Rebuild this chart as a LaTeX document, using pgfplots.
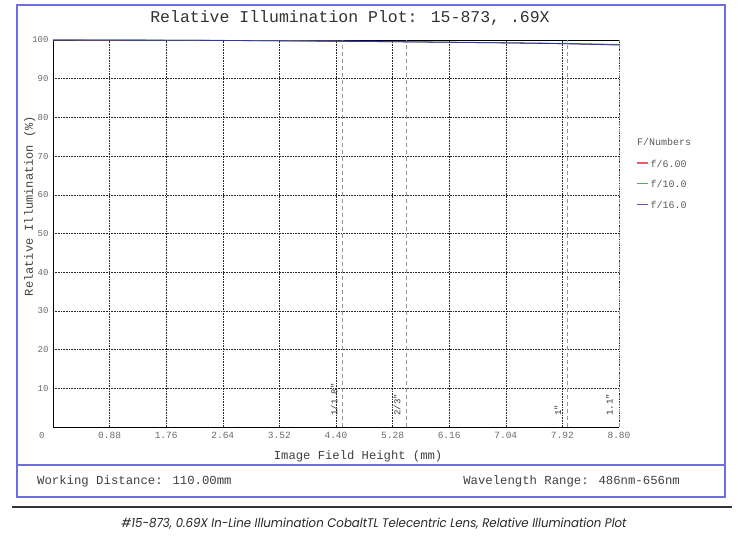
\documentclass[border=0pt]{standalone}
\usepackage{pgfplots}
\pgfplotsset{compat=1.18}
\usepackage{fontspec}
\setmainfont{Liberation Mono}
\setmonofont{Liberation Mono}
\newfontfamily\capfont{Poppins}
\definecolor{frameblue}{RGB}{110,110,225}
\definecolor{cred}{RGB}{235,70,95}
\definecolor{cgreen}{RGB}{60,150,60}
\definecolor{cblue}{RGB}{50,50,190}
\definecolor{lred}{RGB}{240,90,105}
\definecolor{lgreen}{RGB}{90,170,90}
\definecolor{lblue}{RGB}{80,80,210}
\definecolor{tickgray}{RGB}{105,105,105}
\definecolor{dashgray}{RGB}{150,150,150}
\begin{document}
\begin{tikzpicture}
\path[use as bounding box] (0pt,0pt) rectangle (744pt,542pt);
\draw[frameblue, line width=1.2pt] (17pt,45pt) rectangle (725pt,537pt);
\draw[frameblue, line width=1.2pt] (17pt,77pt) -- (725pt,77pt);
\draw[black!80, line width=1.3pt] (12pt,35pt) -- (732pt,35pt);
\node[font=\fontsize{16.5}{18}\selectfont, text=black!80] at (350pt,524.5pt) {Relative Illumination Plot: 15-873, .69X};
\node[anchor=west, font=\fontsize{12.3}{14}\selectfont, text=black!75, inner sep=0pt] at (37pt,61pt) {Working Distance: 110.00mm};
\node[anchor=east, font=\fontsize{12.3}{14}\selectfont, text=black!75, inner sep=0pt] at (680pt,61pt) {Wavelength Range: 486nm-656nm};
\node[text=black!85] at (374pt,18pt) {\resizebox{505pt}{9.5pt}{\capfont\itshape \#15-873, 0.69X In-Line Illumination CobaltTL Telecentric Lens, Relative Illumination Plot}};
\begin{axis}[
  at={(53pt,115pt)}, anchor=south west,
  scale only axis, width=566pt, height=387pt,
  xmin=0, xmax=8.8, ymin=0, ymax=100,
  clip=false,
  /pgf/number format/assume math mode=true,
  xtick={0.88,1.76,2.64,3.52,4.40,5.28,6.16,7.04,7.92,8.80},
  xticklabel={\pgfmathprintnumber[fixed,fixed zerofill,precision=2]{\tick}},
  ytick={10,20,...,100},
  extra y ticks={0},
  extra y tick style={grid=none, yticklabel style={yshift=-9pt, xshift=-4pt}},
  major tick length=0pt,
  grid=major,
  major grid style={black!85, line width=0.5pt, dash pattern=on 0.8pt off 0.8pt},
  axis line style={draw=none},
  xticklabel style={font=\fontsize{9.5}{11}\selectfont, text=tickgray, yshift=-2pt},
  yticklabel style={font=\fontsize{9}{11}\selectfont, text=tickgray, xshift=-1pt},
  xlabel={Image Field Height (mm)},
  ylabel={Relative Illumination (\%)},
  xlabel style={at={(axis description cs:0.539,-0.075)}, anchor=center, font=\fontsize{12.2}{14}\selectfont, text=black!75},
  ylabel style={at={(axis description cs:-0.041,0.571)}, anchor=center, font=\fontsize{12}{14}\selectfont, text=black!75},
  legend style={at={(rel axis cs:1.030,0.691)}, anchor=north west, draw=none, fill=none,
    font=\fontsize{10}{12}\selectfont, text=black!65, row sep=12pt, inner sep=0pt,
    nodes={inner xsep=2pt, inner ysep=0pt}},
  legend cell align=left,
]
\draw[black, line width=0.9pt] (rel axis cs:1,1) -- (rel axis cs:0,1) -- (rel axis cs:0,0) -- (rel axis cs:1,0);
\addplot[dashgray, line width=0.7pt, dash pattern=on 4pt off 3pt, forget plot] coordinates {(4.50,0) (4.50,100)};
\addplot[dashgray, line width=0.7pt, dash pattern=on 4pt off 3pt, forget plot] coordinates {(5.50,0) (5.50,100)};
\addplot[dashgray, line width=0.7pt, dash pattern=on 4pt off 3pt, forget plot] coordinates {(8.00,0) (8.00,100)};
\addplot[dashgray, line width=0.7pt, dash pattern=on 4pt off 3pt, forget plot] coordinates {(8.80,0) (8.80,100)};
\addplot[cred, line width=0.8pt, legend image code/.code={\draw[lred, line width=1.4pt] (0pt,1.2pt)--(11pt,1.2pt);}] coordinates {(0,100) (0.88,99.93) (1.76,99.93) (2.64,99.88) (3.52,99.8) (4.40,99.7) (5.28,99.55) (6.16,99.4) (7.04,99.25) (7.92,99.05) (8.80,98.75)};
\addlegendentry{f/6.00}
\addplot[cgreen, line width=0.8pt, legend image code/.code={\draw[lgreen, line width=1.4pt] (0pt,1.2pt)--(11pt,1.2pt);}] coordinates {(0,100) (0.88,99.98) (1.76,99.96) (2.64,99.9) (3.52,99.82) (4.40,99.72) (5.28,99.6) (6.16,99.45) (7.04,99.3) (7.92,99.15) (8.80,98.85)};
\addlegendentry{f/10.0}
\addplot[cblue, line width=0.8pt, legend image code/.code={\draw[lblue, line width=1.4pt] (0pt,1.2pt)--(11pt,1.2pt);}] coordinates {(0,100) (0.88,99.98) (1.76,99.95) (2.64,99.88) (3.52,99.78) (4.40,99.68) (5.28,99.55) (6.16,99.4) (7.04,99.25) (7.92,99.05) (8.80,98.7)};
\addlegendentry{f/16.0}
\node[anchor=west, font=\fontsize{10}{12}\selectfont, text=black!65, inner sep=0pt] at (rel axis cs:1.0318,0.7364) {F/Numbers};
\node[rotate=90, anchor=south west, font=\ttfamily\fontsize{9}{10}\selectfont, text=black!80, inner sep=1pt] at (axis cs:4.44,2.6) {1/1.8"};
\node[rotate=90, anchor=south west, font=\ttfamily\fontsize{9}{10}\selectfont, text=black!80, inner sep=1pt] at (axis cs:5.42,2.6) {2/3"};
\node[rotate=90, anchor=south west, font=\ttfamily\fontsize{9}{10}\selectfont, text=black!80, inner sep=1pt] at (axis cs:7.92,2.6) {1"};
\node[rotate=90, anchor=south west, font=\ttfamily\fontsize{9}{10}\selectfont, text=black!80, inner sep=1pt] at (axis cs:8.72,2.6) {1.1"};
\end{axis}
\end{tikzpicture}
\end{document}
